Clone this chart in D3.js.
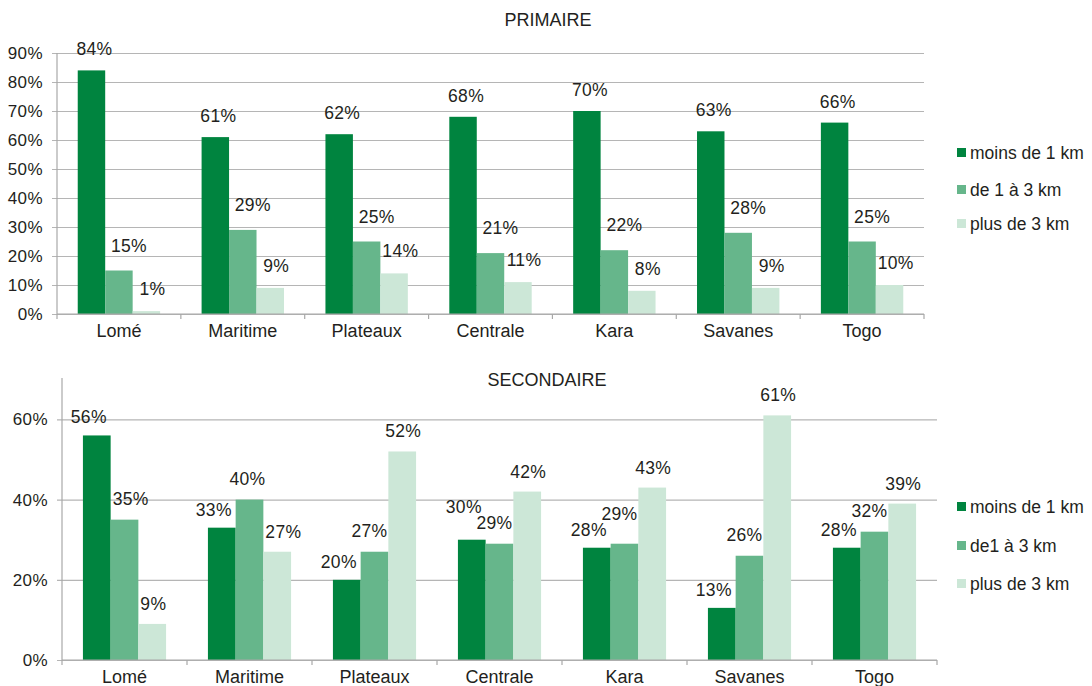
<!DOCTYPE html>
<html lang="fr">
<head>
<meta charset="utf-8">
<script src="https://cdn.jsdelivr.net/npm/d3@7"></script>
<style>
  html, body { margin: 0; padding: 0; background: #fff; }
  svg text { font-family: "Liberation Sans", Arial, Helvetica, sans-serif; fill: #231f20; }
</style>
</head>
<body>
<svg id="chart" width="1092" height="686"></svg>
<script>
// Régions
const regions = ["Lomé", "Maritime", "Plateaux", "Centrale", "Kara", "Savanes", "Togo"];
const seriesNames = ["moins de 1 km", "de 1 à 3 km", "plus de 3 km"];

// Primaire : part des élèves selon la distance (%)
const primMoins1 = [84, 61, 62, 68, 70, 63, 66];
const primDe1a3  = [15, 29, 25, 21, 22, 28, 25];
const primPlus3  = [1, 9, 14, 11, 8, 9, 10];
const primTicks  = [0, 10, 20, 30, 40, 50, 60, 70, 80, 90];

// Secondaire
const secMoins1 = [56, 33, 20, 30, 28, 13, 28];
const secDe1a3  = [35, 40, 27, 29, 29, 26, 32];
const secPlus3  = [9, 27, 52, 42, 43, 61, 39];
const secTicks  = [0, 20, 40, 60];

const colors = ["#00843f", "#66b68b", "#cce7d7"];

const svg = d3.select("#chart");

function drawPanel(cfg) {
  const g = svg.append("g");
  const x0 = d3.scaleBand().domain(regions).range([cfg.left, cfg.right]).padding(0);
  const x1 = d3.scaleBand().domain(d3.range(seriesNames.length))
    .range([0, x0.bandwidth()]).paddingInner(0).paddingOuter(0.755);
  const y = d3.scaleLinear().domain([0, cfg.max]).range([cfg.bottom, cfg.top]);

  // grille + graduations de l'axe vertical
  const yAxis = d3.axisLeft(y)
    .tickValues(cfg.ticks)
    .tickFormat(d => d + "%")
    .tickSizeInner(cfg.right - cfg.left + 5)
    .tickSizeOuter(0)
    .tickPadding(9);
  const ga = g.append("g").attr("transform", `translate(${cfg.right},0)`).call(yAxis);
  ga.select(".domain").remove();
  ga.selectAll(".tick line").attr("stroke", "#b5b5b5").attr("stroke-width", 1.2);
  ga.selectAll(".tick text").attr("font-size", 17).attr("letter-spacing", 0.4).attr("fill", "#231f20");

  // axe vertical
  g.append("line")
    .attr("x1", cfg.left).attr("x2", cfg.left)
    .attr("y1", cfg.axisTop).attr("y2", cfg.bottom + 5)
    .attr("stroke", "#a8a8a8").attr("stroke-width", 1.2);

  // barres
  const data = cfg.series;
  const bw = x1.bandwidth();
  data.forEach((vals, si) => {
    g.append("g").selectAll("rect")
      .data(vals)
      .join("rect")
      .attr("x", (d, i) => x0(regions[i]) + x1(si))
      .attr("y", d => y(d))
      .attr("width", bw)
      .attr("height", d => cfg.bottom - y(d))
      .attr("fill", colors[si]);
  });

  // étiquettes de valeur
  const fs = 17.5;
  const labelG = g.append("g");
  regions.forEach((r, i) => {
    const items = data.map((vals, si) => {
      const v = vals[i];
      const t = labelG.append("text")
        .attr("text-anchor", "middle")
        .attr("font-size", fs)
        .attr("letter-spacing", 0.3)
        .text(v + "%");
      const w = t.node().getComputedTextLength();
      const barX = x0(r) + x1(si);
      let cx = barX + bw / 2 + cfg.labelDx[si];
      const base = y(v) - cfg.labelGap[si];
      // ne pas empiéter sur une barre voisine plus haute
      if (si > 0 && y(data[si - 1][i]) < base && cx - w / 2 < barX + 2) cx = barX + 2 + w / 2;
      if (si < data.length - 1 && y(data[si + 1][i]) < base && cx + w / 2 > barX + bw - 1) cx = barX + bw - 1 - w / 2;
      return { t, v, w, cx, base };
    });
    // deux étiquettes voisines qui se touchent : la plus haute barre remonte son étiquette
    for (let k = 0; k < items.length - 1; k++) {
      const a = items[k], b = items[k + 1];
      const hOverlap = (a.cx + a.w / 2) > (b.cx - b.w / 2) - 2;
      const vOverlap = Math.abs(a.base - b.base) < 15;
      if (hOverlap && vOverlap) {
        if (a.v >= b.v) a.base = b.base - 16;
        else b.base = a.base - 16;
      }
    }
    items.forEach(o => o.t.attr("x", o.cx).attr("y", o.base));
  });

  // axe des catégories
  const xAxis = d3.axisBottom(x0).tickSize(0).tickPadding(10);
  const gx = g.append("g").attr("transform", `translate(0,${cfg.bottom})`).call(xAxis);
  gx.select(".domain").remove();
  gx.selectAll(".tick text").attr("font-size", 18).attr("fill", "#231f20");
  g.append("line")
    .attr("x1", cfg.left).attr("x2", cfg.right)
    .attr("y1", cfg.bottom).attr("y2", cfg.bottom)
    .attr("stroke", "#a8a8a8").attr("stroke-width", 1.2);
  g.append("g").selectAll("line")
    .data(regions.map(r => x0(r) + x0.bandwidth()))
    .join("line")
    .attr("x1", d => d).attr("x2", d => d)
    .attr("y1", cfg.bottom).attr("y2", cfg.bottom + 5)
    .attr("stroke", "#a8a8a8").attr("stroke-width", 1.2);

  // titre
  g.append("text")
    .attr("x", cfg.titleX).attr("y", cfg.titleY)
    .attr("text-anchor", "middle").attr("font-size", 18)
    .text(cfg.title);

  // légende
  const lg = g.append("g").selectAll("g")
    .data(cfg.legendNames)
    .join("g")
    .attr("transform", (d, i) => `translate(957,${cfg.legendY[i]})`);
  lg.append("rect").attr("x", 0).attr("y", -5).attr("width", 9).attr("height", 9)
    .attr("fill", (d, i) => colors[i]);
  lg.append("text").attr("x", 13).attr("y", 6).attr("font-size", 17.5).text(d => d);
}

drawPanel({
  title: "PRIMAIRE", titleX: 548, titleY: 26,
  left: 57, right: 924, top: 53, bottom: 314, axisTop: 53, max: 90,
  ticks: primTicks,
  series: [primMoins1, primDe1a3, primPlus3],
  labelDx: [3, 10, 6], labelGap: [15, 19, 16],
  legendNames: seriesNames, legendY: [153, 190, 224]
});

drawPanel({
  title: "SECONDAIRE", titleX: 547, titleY: 386,
  left: 62, right: 937, top: 379.3, bottom: 660, axisTop: 378, max: 70,
  ticks: secTicks,
  series: [secMoins1, secDe1a3, secPlus3],
  labelDx: [-8, -2, 1], labelGap: [12, 15, 14],
  legendNames: ["moins de 1 km", "de1 à 3 km", "plus de 3 km"], legendY: [507, 546, 584]
});
</script>
</body>
</html>
